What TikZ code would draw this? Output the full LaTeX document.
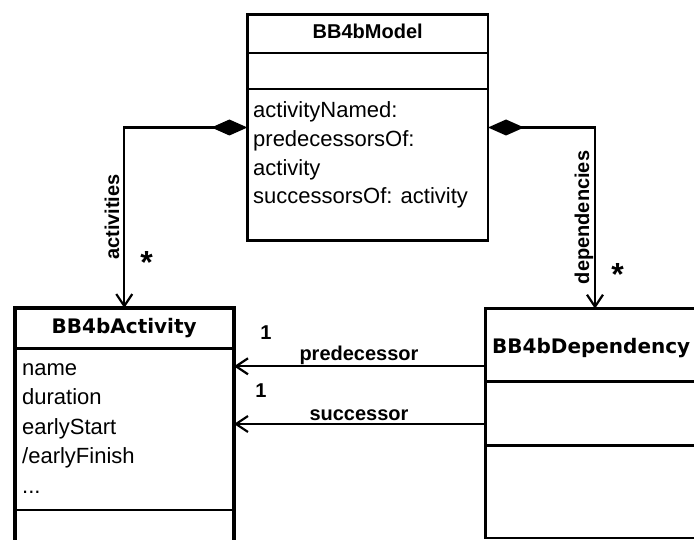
\documentclass[tikz,border=0pt]{standalone}
\usepackage{fontspec}
\setmainfont{Liberation Sans}
\newfontfamily\clsfont{DejaVu Sans}
\usetikzlibrary{arrows.meta}

\tikzset{
  classbox/.style={draw, inner sep=0pt, outer sep=0pt, anchor=north west},
  divider/.style={line width=2.4pt},
  clsname/.style={font=\clsfont\bfseries\fontsize{20}{24}\selectfont, inner sep=0pt, anchor=base},
  mdlname/.style={font=\bfseries\fontsize{20}{24}\selectfont, inner sep=0pt, anchor=base},
  member/.style={font=\fontsize{22}{26}\selectfont, inner sep=0pt, anchor=base west},
  rolelabel/.style={font=\bfseries\fontsize{20}{24}\selectfont, inner sep=0pt, anchor=base},
  multstar/.style={font=\bfseries\fontsize{32}{36}\selectfont, inner sep=0pt, anchor=base},
  compose/.style={line width=2.2pt, {Diamond[length=36pt,width=16pt]}-{Straight Barb[length=12pt,width=16pt]}},
  navig/.style={line width=2.2pt, -{Straight Barb[length=12pt,width=16pt]}}
}

\begin{document}
\begin{tikzpicture}[x=1pt,y=-1pt]
\useasboundingbox (0,0) rectangle (694,540);
\clip (0,0) rectangle (694,540);

% BB4bModel
\node[classbox, line width=2.6pt, minimum width=240.6pt, minimum height=225.6pt] (model) at (247.4,14.7) {};
\draw[divider] (model.west |- 0,53) -- (model.east |- 0,53);
\draw[divider] (model.west |- 0,89) -- (model.east |- 0,89);
\node[mdlname] (modelname) at (367.7,39) {BB4bModel};
\node[member] (m1) at (253,118) {activityNamed:};
\node[member] (m2) at (253,147) {predecessorsOf:};
\node[member] (m3) at (253,175.5) {activity};
\node[member] (m4) at (253,204) {successorsOf: activity};

% BB4bActivity
\node[classbox, line width=4pt, minimum width=219.5pt, minimum height=260pt] (activity) at (14.5,308) {};
\draw[divider] (activity.west |- 0,348.3) -- (activity.east |- 0,348.3);
\draw[divider] (activity.west |- 0,510) -- (activity.east |- 0,510);
\node[clsname] (actname) at (124.2,334) {BB4bActivity};
\node[member] (a1) at (22,375) {name};
\node[member] (a2) at (22,404.5) {duration};
\node[member] (a3) at (22,434) {earlyStart};
\node[member] (a4) at (22,463.5) {/earlyFinish};
\node[member] (a5) at (22,493) {...};

% BB4bDependency
\node[classbox, line width=2.4pt, minimum width=219pt, minimum height=229.3pt] (dep) at (485.5,308.7) {};
\draw[divider] (dep.west |- 0,381.3) -- (dep.east |- 0,381.3);
\draw[divider] (dep.west |- 0,445.3) -- (dep.east |- 0,445.3);
\node[clsname, anchor=base west] (depname) at (492,353) {BB4bDependency};

% compositions from the model
\draw[compose] (model.west) -| (activity.north);
\draw[compose] (model.east) -| (dep.north);
\node[rolelabel, rotate=90] (lact) at (119,217) {activities};
\node[multstar] (mact) at (146.5,273.5) {*};
\node[rolelabel, rotate=90] (ldep) at (589,217.5) {dependencies};
\node[multstar] (mdep) at (617.5,285.5) {*};

% associations from a dependency to its activities
\coordinate (predrow) at (0,366.3);
\coordinate (succrow) at (0,424);
\draw[navig] (dep.west |- predrow) -- (activity.east |- predrow);
\draw[navig] (dep.west |- succrow) -- (activity.east |- succrow);
\node[rolelabel] (lpred) at (359,360.5) {predecessor};
\node[rolelabel] (mpred) at (266,339) {1};
\node[rolelabel] (lsucc) at (359,420) {successor};
\node[rolelabel] (msucc) at (261,397) {1};
\end{tikzpicture}
\end{document}
